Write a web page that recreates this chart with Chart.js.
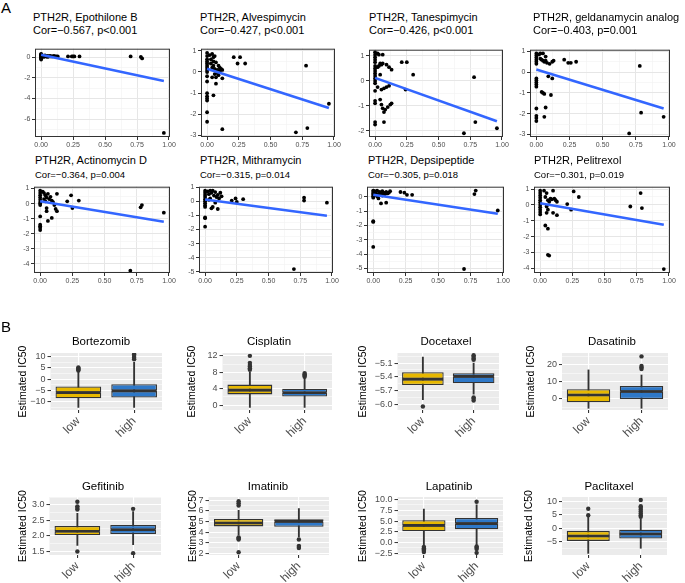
<!DOCTYPE html>
<html>
<head>
<meta charset="utf-8">
<script src="https://cdn.jsdelivr.net/npm/chart.js@4.4.1/dist/chart.umd.min.js"></script>
<style>
  body { margin: 0; background: #fff; width: 685px; height: 583px; position: relative; overflow: hidden; }
  canvas { position: absolute; }
  .txt { position: absolute; white-space: nowrap; color: #000; line-height: 1; }
</style>
</head>
<body>
<script>
// ---- panel A: correlation scatter plots ----
const gene = 'PTH2R';
const corDrugs = ['Epothilone B', 'Alvespimycin', 'Tanespimycin', 'geldanamycin analog',
                  'Actinomycin D', 'Mithramycin', 'Depsipeptide', 'Pelitrexol'];
const corStats = ['Cor=\u22120.567, p<0.001', 'Cor=\u22120.427, p<0.001', 'Cor=\u22120.426, p<0.001', 'Cor=\u22120.403, p=0.001',
                  'Cor=\u22120.364, p=0.004', 'Cor=\u22120.315, p=0.014', 'Cor=\u22120.305, p=0.018', 'Cor=\u22120.301, p=0.019'];

const xTicks = [0, 0.25, 0.5, 0.75, 1];
const xTickLabels = ['0.00', '0.25', '0.50', '0.75', '1.00'];
const xRange = [-0.048, 1.008];

const fitX = [0, 0.96];
const fitStartY = [0.26, 0.15, 0.12, 0.13, 0.15, 0.12, 0.15, 0.1];
const fitEndY = [-2.3, -1.7, -1.62, -1.75, -1.2, -1.03, -1.18, -1.25];

const yRangesA = [[-7.75, 0.85], [-3.07, 1.1], [-2.25, 1.25], [-3.12, 1.08],
                  [-4.6, 1.12], [-5.08, 1.03], [-5.33, 0.72], [-4.3, 1.15]];
const yTicksA = [[-6, -4, -2, 0], [-3, -2, -1, 0, 1], [-2, -1, 0, 1], [-3, -2, -1, 0, 1],
                 [-4, -3, -2, -1, 0, 1], [-5, -4, -3, -2, -1, 0, 1], [-5, -4, -3, -2, -1, 0], [-4, -3, -2, -1, 0, 1]];

const ptsEpothilone = [[0,0.35],[0,0.3],[0,0.25],[0,0.2],[0,0.15],[0,0.1],[0,0.05],[0,0],[0,-0.05],[0,-0.1],[0,-0.2],
  [0.01,0.2],[0.01,0.1],[0.02,0.15],[0.02,0.05],[0.03,0.1],[0.03,0.2],[0.04,0.1],[0.05,0.15],[0.05,0.05],[0.06,0.1],
  [0.07,0.15],[0.07,0.1],[0.08,0.1],[0.09,0.1],[0.1,0.15],[0.11,0.1],[0.12,0.1],[0.13,0.1],[0.21,0.1],[0.24,0.1],
  [0.25,0.1],[0.26,0.1],[0.3,0.1],[0.7,0.1],[0.78,0.05],[0.79,-0.1],[0.96,-7.35]];
const ptsAlvespimycin = [[0,0.9],[0,0.75],[0,0.6],[0,0.5],[0,0.4],[0,0.3],[0,0.2],[0,0.1],[0,0],[0,-0.2],[0,-0.45],
  [0,-1.0],[0,-1.15],[0,-1.25],[0,-1.35],[0,-1.9],[0,-2.35],[0.02,0.8],[0.03,0.6],[0.03,0.4],[0.04,0.85],[0.04,0.2],
  [0.05,0.7],[0.05,0.5],[0.05,0.3],[0.06,0.75],[0.06,0.15],[0.06,-0.1],[0.07,0.45],[0.07,-0.25],[0.08,0.1],[0.08,-0.05],
  [0.09,0.3],[0.09,-0.15],[0.1,0.2],[0.1,0.05],[0.11,0.15],[0.12,-0.3],[0.12,0.1],[0.04,-0.25],[0.05,-1.1],[0.07,-0.55],
  [0.12,-2.7],[0.21,0.7],[0.24,0.4],[0.26,0.7],[0.3,0.4],[0.7,-2.85],[0.78,0.3],[0.79,-2.65],[0.96,-1.5]];
const ptsTanespimycin = [[0,1.15],[0,1.05],[0,0.95],[0,0.85],[0,0.75],[0,0.6],[0,0.5],[0,0.4],[0,0.3],[0,0.2],[0,0.1],
  [0,0],[0,-0.1],[0,-0.4],[0,-0.8],[0,-0.9],[0,-1.65],[0,-1.75],[0.02,1.1],[0.03,1.05],[0.06,1.05],[0.02,0.55],[0.03,0.6],
  [0.04,0.7],[0.05,0.65],[0.06,0.7],[0.09,0.65],[0.11,0.55],[0.13,0.45],[0.04,0.25],[0.02,-0.25],[0.05,-0.35],[0.07,-0.3],
  [0.09,-0.25],[0.11,-0.2],[0.04,-0.75],[0.05,-0.95],[0.06,-1.1],[0.07,-1.25],[0.08,-1.15],[0.1,-1.05],[0.12,-0.95],
  [0.13,-0.9],[0.07,-1.65],[0.21,0.75],[0.25,0.75],[0.24,-0.35],[0.3,0.25],[0.7,-2.1],[0.78,0.15],[0.79,-1.65],[0.96,-1.9]];
const ptsGeldanamycin = [[0,0.9],[0,0.8],[0,0.7],[0,0.6],[0,0.5],[0,0.4],[0,-0.3],[0,-0.4],[0,-0.5],[0,-0.6],[0,-0.7],
  [0,-1.75],[0,-2.1],[0,-2.2],[0,-2.35],[0.02,0.85],[0.03,0.9],[0.05,0.9],[0.07,0.75],[0.03,0.65],[0.04,0.6],[0.05,0.55],
  [0.06,0.5],[0.07,0.55],[0.08,0.45],[0.1,0.4],[0.12,0.5],[0.13,0.55],[0.09,-0.2],[0.12,-0.3],[0.04,-0.95],[0.05,-1.0],
  [0.06,-1.05],[0.11,-1.1],[0.07,-1.7],[0.06,-2.15],[0.21,0.6],[0.24,0.45],[0.26,0.45],[0.3,0.5],[0.7,-2.95],[0.78,0.3],
  [0.79,-1.95],[0.96,-2.15]];
const ptsActinomycin = [[0,0.85],[0,0.7],[0,0.55],[0,0.4],[0,0.25],[0,0.1],[0,0],[0,-0.1],[0,-0.85],[0,-1.4],[0,-1.5],
  [0,-1.6],[0,-1.75],[0.02,0.8],[0.03,0.7],[0.04,0.55],[0.05,0.4],[0.06,0.65],[0.07,0.3],[0.08,0.45],[0.09,0.2],[0.1,0.1],
  [0.03,0.3],[0.04,0.15],[0.11,-0.1],[0.12,-0.35],[0.13,0.65],[0.13,-0.5],[0.05,-0.3],[0.05,-0.5],[0.06,-1.15],[0.09,-0.95],
  [0.21,0.15],[0.24,0.55],[0.25,-0.3],[0.3,0.2],[0.7,-4.45],[0.78,-0.25],[0.79,-0.1],[0.96,-0.6]];
const ptsMithramycin = [[0,0.75],[0,0.6],[0,0.45],[0,0.3],[0,0.15],[0,0],[0,-0.15],[0,-0.3],[0,-0.4],[0,-1.15],[0,-1.2],
  [0,-1.8],[0.02,0.7],[0.03,0.5],[0.04,0.75],[0.05,0.6],[0.06,0.75],[0.07,0.4],[0.08,0.65],[0.09,0.3],[0.1,0.45],[0.11,0.2],
  [0.12,0.6],[0.13,0.35],[0.03,0.1],[0.04,0.2],[0.05,-0.5],[0.06,-0.4],[0.08,-0.1],[0.1,-0.55],[0.21,0.05],[0.24,0.2],
  [0.25,-0.05],[0.3,0.15],[0.7,-4.8],[0.78,0.05],[0.78,0.25],[0.96,-0.1]];
const ptsDepsipeptide = [[0,0.45],[0,0.35],[0,0.25],[0,0.15],[0,0.05],[0,-0.05],[0,-1.7],[0,-1.75],[0,-3.5],
  [0.01,0.4],[0.02,0.3],[0.03,0.45],[0.04,0.2],[0.05,0.35],[0.06,0.25],[0.07,0.4],[0.08,0.3],[0.09,0.2],[0.1,0.35],
  [0.11,0.25],[0.12,0.3],[0.13,0.4],[0.03,0.05],[0.04,-0.1],[0.07,0.1],[0.06,-0.45],[0.1,-0.4],[0.21,0.35],[0.24,0.3],
  [0.26,0.15],[0.3,0.15],[0.7,-5.05],[0.78,0.2],[0.79,0.45],[0.96,-0.95]];
const ptsPelitrexol = [[0,0.9],[0,0.75],[0,0.6],[0,0.45],[0,0.3],[0,0.15],[0,0],[0,-0.15],[0,-0.3],[0,-0.45],[0,-0.6],
  [0.03,0.9],[0.04,0.5],[0.05,0.75],[0.06,0.3],[0.07,0.2],[0.08,0.4],[0.09,0.35],[0.1,0.9],[0.11,0.4],[0.12,0.3],
  [0.13,0.2],[0.05,-0.1],[0.06,-0.3],[0.05,-0.5],[0.1,-0.5],[0.13,-0.65],[0.04,-1.3],[0.06,-1.5],[0.06,-3.15],[0.07,-3.2],
  [0.21,0.05],[0.24,-0.3],[0.26,0.85],[0.3,0.5],[0.7,-0.1],[0.78,0.75],[0.79,-0.2],[0.96,-4.05]];
const scatterPoints = [ptsEpothilone, ptsAlvespimycin, ptsTanespimycin, ptsGeldanamycin,
                       ptsActinomycin, ptsMithramycin, ptsDepsipeptide, ptsPelitrexol];

// ---- panel B: estimated IC50 box plots ----
const groups = ['low', 'high'];
const boxDrugs = ['Bortezomib', 'Cisplatin', 'Docetaxel', 'Dasatinib', 'Gefitinib', 'Imatinib', 'Lapatinib', 'Paclitaxel'];
// [whisker min, q1, median, q3, whisker max]
const lowStats = [[-12.6, -8.5, -6.0, -3.3, 3.0], [-0.6, 2.6, 3.65, 5.0, 8.0], [-5.9, -5.58, -5.45, -5.3, -4.97],
                  [-5.7, -2.1, 2.2, 5.6, 17], [1.7, 2.02, 2.15, 2.32, 2.73], [3.7, 4.53, 4.85, 5.23, 6.05],
                  [-0.6, 2.6, 4.0, 5.2, 7.8], [-9.4, -4.75, -2.9, -1.0, 4.4]];
const highStats = [[-12.6, -8.2, -5.2, -2.3, 7.5], [-0.6, 2.1, 3.0, 4.0, 6.5], [-5.78, -5.54, -5.39, -5.32, -5.1],
                   [-5.7, -0.2, 4.2, 7.5, 14], [1.72, 2.06, 2.2, 2.35, 2.78], [3.55, 4.5, 5.0, 5.2, 6.2],
                   [-0.5, 3.1, 4.4, 5.7, 8.8], [-7.5, -3.9, -2.2, -0.6, 3.5]];
const lowOutliers = [[3.8, 4.3, 4.7, 5.2], [8.6, 9.0, 9.4, 9.8, 10.3, 12.0], [-6.05], [],
                     [2.85, 2.9, 2.95, 3.1, 1.5], [6.5, 6.7, 6.9, 3.5, 3.4, 3.3, 2.1],
                     [-1.0, -1.3, -1.6, -1.9, -2.2], [4.8, 7.2]];
const highOutliers = [[8.8, 9.5, 10.3, 11.0], [6.9, 7.2, 7.5, 7.8], [-4.93, -4.96, -5.0, -5.03, -5.85, -5.88, -5.92],
                      [17.5, 18.5, 19.3, 25], [2.87, 1.45], [3.3, 2.7, 2.6, 2.5],
                      [9.5, -0.9, -1.2, -1.5, -2.4], [4.2, 4.8, 5.5, 6.2, 6.9, 7.6, 8.2, 10.5]];
const yRangesB = [[-13.7, 11.6], [-1.2, 12.7], [-6.125, -4.88], [-6.7, 27], [1.39, 3.25], [1.84, 7.3], [-2.9, 10.6], [-10, 11.6]];
const yTicksB = [[-10, -5, 0, 5, 10], [0, 4, 8, 12], [-6.0, -5.7, -5.4, -5.1], [0, 10, 20],
                 [1.5, 2.0, 2.5, 3.0], [2, 3, 4, 5, 6, 7], [-2.5, 0, 2.5, 5, 7.5, 10], [-5, 0, 5, 10]];
const yTickLabelsB = [['\u221210', '\u22125', '0', '5', '10'], ['0', '4', '8', '12'],
                      ['\u22126.0', '\u22125.7', '\u22125.4', '\u22125.1'], ['0', '10', '20'],
                      ['1.5', '2.0', '2.5', '3.0'], ['2', '3', '4', '5', '6', '7'],
                      ['\u22122.5', '0.0', '2.5', '5.0', '7.5', '10.0'], ['\u22125', '0', '5', '10']];

// ---- layout ----
const SANS = "'Liberation Sans', Arial, sans-serif";
const groupColors = ['#E7B800', '#2E78C8'];

// plot panel boxes [left, top, right, bottom]
const scatterBoxes = [[35, 48, 170, 137], [201, 48, 335, 137], [369, 49, 503, 137], [530, 49, 670, 137],
                      [34, 186, 170, 273], [199, 186, 333, 273], [367, 186, 504, 273], [534, 186, 670, 273]];
const scatterTitleX = [33, 200, 369, 533, 35, 200, 368, 534];
const boxPanels = [[50, 353, 161, 410], [222, 353, 331, 410], [397, 353, 498, 410], [562, 353, 668, 410],
                   [49, 497, 160, 555], [208, 497, 328, 555], [397, 497, 502, 555], [562, 497, 667, 555]];
const boxYTitleX = [22.5, 191.5, 362.5, 531, 22.5, 192.5, 362.5, 529];
const boxTitleX = [101, 269, 446, 612, 103, 268, 449, 609];

Chart.defaults.font.family = SANS;
Chart.defaults.color = '#4D4D4D';

const panelPlugin = {
    id: 'panel',
    beforeDraw(chart, args, opts) {
        const a = chart.chartArea;
        const ctx = chart.ctx;
        ctx.save();
        ctx.fillStyle = opts.bg;
        ctx.fillRect(a.left, a.top, a.right - a.left, a.bottom - a.top);
        ctx.restore();
    },
    afterDatasetsDraw(chart, args, opts) {
        if (!opts.frame) return;
        const a = chart.chartArea;
        const ctx = chart.ctx;
        ctx.save();
        ctx.strokeStyle = opts.frame;
        ctx.lineWidth = 1;
        ctx.strokeRect(a.left + 0.5, a.top + 0.5, a.right - a.left - 1, a.bottom - a.top - 1);
        ctx.restore();
    }
};

function addText(txt, x, y, size, center) {
    const d = document.createElement('div');
    d.className = 'txt';
    d.textContent = txt;
    d.style.fontFamily = SANS;
    d.style.fontSize = size + 'px';
    d.style.left = x + 'px';
    d.style.top = y + 'px';
    if (center) d.style.transform = 'translateX(-50%)';
    document.body.appendChild(d);
}

function makeCanvas(x, y, w, h) {
    const c = document.createElement('canvas');
    c.width = Math.round(w);
    c.height = Math.round(h);
    c.style.left = x + 'px';
    c.style.top = y + 'px';
    document.body.appendChild(c);
    return c;
}

// major ticks plus ggplot-style minor breaks half way between
function tickList(majors, min, max) {
    const s = majors.slice().sort((a, b) => a - b);
    const step = s[1] - s[0];
    const out = s.map(v => ({ value: v, isMajor: true }));
    for (let v = s[0] - step / 2; v <= max; v += step) {
        if (v >= min) out.push({ value: v, isMajor: false });
    }
    return out.sort((a, b) => a.value - b.value);
}

function linearAxis(range, majors, labels, opt) {
    return {
        type: 'linear',
        min: range[0],
        max: range[1],
        afterBuildTicks: s => { s.ticks = tickList(majors, range[0], range[1]); },
        afterFit: s => { if (opt.pos === 'x') s.height = opt.size; else s.width = opt.size; },
        ticks: {
            autoSkip: false,
            maxRotation: 0,
            padding: opt.pad,
            color: '#4D4D4D',
            font: { size: opt.font },
            callback: (value, index, ticks) => {
                if (!ticks[index].isMajor) return '';
                const j = majors.findIndex(m => Math.abs(m - value) < 1e-9);
                return labels[j];
            }
        },
        grid: {
            color: c => (c.tick && c.tick.isMajor) ? opt.major : opt.minor,
            lineWidth: c => (c.tick && c.tick.isMajor) ? opt.majorW : opt.minorW,
            tickColor: c => (c.tick && c.tick.isMajor) ? '#333333' : 'rgba(0,0,0,0)',
            tickLength: 3,
            tickWidth: 1
        },
        border: { display: false },
        title: opt.title ? opt.title : { display: false }
    };
}

function scatterChart(i) {
    const [L, T, R, B] = scatterBoxes[i];
    const yw = 18, xh = 14, pt = 5, pr = 10;
    const cv = makeCanvas(L - yw, T - pt, R - L + yw + pr, B - T + pt + xh);
    const gridA = { major: '#E6E6E6', minor: '#F2F2F2', majorW: 1, minorW: 0.6 };
    new Chart(cv, {
        type: 'scatter',
        data: {
            datasets: [
                {
                    type: 'line',
                    data: [{ x: fitX[0], y: fitStartY[i] }, { x: fitX[1], y: fitEndY[i] }],
                    borderColor: '#3366FF',
                    borderWidth: 2.6,
                    pointRadius: 0,
                    fill: false,
                    order: 0
                },
                {
                    data: scatterPoints[i].map(p => ({ x: p[0], y: p[1] })),
                    backgroundColor: '#000000',
                    borderColor: '#000000',
                    pointRadius: 1.9,
                    borderWidth: 0,
                    order: 1
                }
            ]
        },
        options: {
            responsive: false,
            animation: false,
            events: [],
            layout: { autoPadding: false, padding: { top: pt, right: pr, left: 0, bottom: 0 } },
            plugins: { legend: { display: false }, tooltip: { enabled: false }, panel: { bg: '#FFFFFF', frame: '#333333' } },
            scales: {
                x: linearAxis(xRange, xTicks, xTickLabels, Object.assign({ pos: 'x', size: xh, pad: 1, font: 7 }, gridA)),
                y: linearAxis(yRangesA[i], yTicksA[i], yTicksA[i].map(v => String(v)),
                              Object.assign({ pos: 'y', size: yw, pad: 1.5, font: 7 }, gridA))
            }
        },
        plugins: [panelPlugin]
    });
    addText(gene + ', ' + corDrugs[i], scatterTitleX[i], i < 4 ? 12.2 : 154.7, 11);
    addText(corStats[i], scatterTitleX[i], i < 4 ? 25.2 : 170.3, i < 4 ? 11 : 9.5);
}

function boxChart(i) {
    const [L, T, R, B] = boxPanels[i];
    const left = boxYTitleX[i] - 6;
    const yw = L - left, pt = 14, pr = 6, xh = 40;
    const cv = makeCanvas(left, T - pt, R - L + yw + pr, B - T + pt + xh);
    const lo = lowStats[i], hi = highStats[i];
    const halfBox = (R - L) / 2 * 0.82 / 2 - 0.5;
    const boxStyle = {
        backgroundColor: groupColors,
        borderColor: '#333333',
        borderWidth: 1.3,
        borderSkipped: false,
        grouped: false,
        barPercentage: 0.82,
        categoryPercentage: 1,
        order: 3
    };
    const outliers = lowOutliers[i].map(y => ({ x: 'low', y: y }))
        .concat(highOutliers[i].map(y => ({ x: 'high', y: y })));
    new Chart(cv, {
        type: 'bar',
        data: {
            labels: groups,
            datasets: [
                { data: [[lo[0], lo[4]], [hi[0], hi[4]]], backgroundColor: '#333333', barThickness: 1.2, grouped: false, order: 4 },
                Object.assign({ data: [[lo[1], lo[2]], [hi[1], hi[2]]] }, boxStyle),
                Object.assign({ data: [[lo[2], lo[3]], [hi[2], hi[3]]] }, boxStyle),
                {
                    type: 'line',
                    showLine: false,
                    data: [{ x: 'low', y: lo[2] }, { x: 'high', y: hi[2] }],
                    pointStyle: 'line',
                    pointRadius: halfBox,
                    pointBorderColor: '#333333',
                    pointBorderWidth: 2.6,
                    order: 2
                },
                {
                    type: 'line',
                    showLine: false,
                    data: outliers,
                    pointRadius: 2.2,
                    pointBackgroundColor: '#333333',
                    pointBorderWidth: 0,
                    order: 1
                }
            ]
        },
        options: {
            responsive: false,
            animation: false,
            events: [],
            layout: { autoPadding: false, padding: { top: pt, right: pr, left: 0, bottom: 0 } },
            plugins: { legend: { display: false }, tooltip: { enabled: false }, panel: { bg: '#EBEBEB', frame: null } },
            scales: {
                x: {
                    afterFit: s => { s.height = xh; },
                    ticks: { autoSkip: false, minRotation: 45, maxRotation: 45, padding: 1, color: '#4D4D4D', font: { size: 12 } },
                    grid: { offset: false, color: '#FFFFFF', lineWidth: 1.1, tickColor: '#333333', tickLength: 3 },
                    border: { display: false }
                },
                y: linearAxis(yRangesB[i], yTicksB[i], yTickLabelsB[i],
                              { pos: 'y', size: yw, pad: 2, font: 9, major: '#FFFFFF', minor: '#FFFFFF', majorW: 1.1, minorW: 0.5,
                                title: { display: true, text: 'Estimated IC50', color: '#000000', padding: 0, font: { size: 10.5 } } })
            }
        },
        plugins: [panelPlugin]
    });
    addText(boxDrugs[i], boxTitleX[i], i < 4 ? 336 : 481, 11.5, true);
}

for (let i = 0; i < 8; i++) scatterChart(i);
for (let i = 0; i < 8; i++) boxChart(i);
addText('A', 1, 0.3, 15);
addText('B', 1, 319.3, 15);
</script>
</body>
</html>
